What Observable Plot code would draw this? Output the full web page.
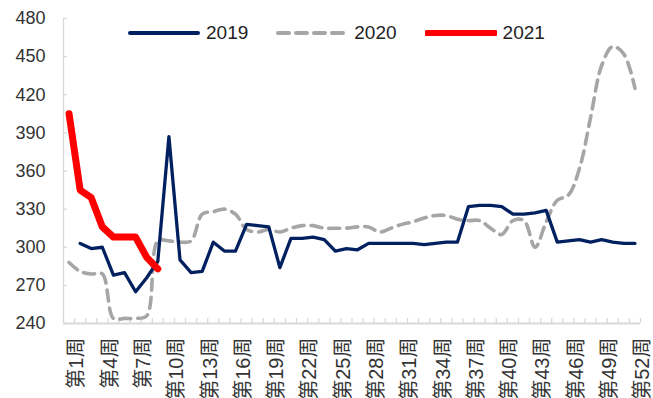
<!DOCTYPE html>
<html><head><meta charset="utf-8">
<script src="https://cdn.jsdelivr.net/npm/d3@7"></script>
<script src="https://cdn.jsdelivr.net/npm/@observablehq/plot@0.6"></script>
<style>
body{margin:0;background:#fff;}
#wrap{position:relative;width:653px;height:398px;overflow:hidden;font-family:"Liberation Sans","Noto Sans CJK SC",sans-serif;}
#legend{position:absolute;top:22px;left:128px;display:flex;align-items:center;font-size:19px;color:#222;}
#legend .item{display:flex;align-items:center;}
#legend .item span{margin-left:6px;margin-right:28px;}
</style></head><body><div id="wrap"><div id="legend"></div></div>
<script>
const weeks = d3.range(1, 53);
const tickWeeks = [1,4,7,10,13,16,19,22,25,28,31,34,37,40,43,46,49,52];
const yTicks = [240,270,300,330,360,390,420,450,480];
const seriesNames = ["2019","2020","2021"];
const seriesColors = ["#002060","#A6A6A6","#FF0000"];
const v2019 = [null,303,299,300,278,280,265,276,289,387,290,280,281,304,297,297,318,317,316,284,307,307,308,306,297,299,298,303,303,303,303,303,302,303,304,304,332,333,333,332,326,326,327,329,304,305,306,304,306,304,303,303];
const v2020 = [288,281,279,279,244,244,244,246,305,305,304,305,326,328,330,326,314,312,314,312,315,317,317,315,315,315,316,316,312,315,318,320,323,325,325,322,321,321,315,310,321,321,300,320,337,341,362,402,443,458,452,425];
const v2021 = [405,345,339,316,308,308,308,292,283];

const toRows = (vals) => vals.map((v, i) => ({week: weeks[i], value: v})).filter(d => d.value != null);
const d2019 = toRows(v2019), d2020 = toRows(v2020), d2021 = toRows(v2021);
const boundaries = d3.range(0, 53).map(i => i + 0.5);

const chart = Plot.plot({
  width: 653, height: 398,
  marginLeft: 63, marginRight: 13, marginTop: 18, marginBottom: 75,
  style: {fontFamily: '"Liberation Sans","Noto Sans CJK SC",sans-serif', fontSize: "18px", color: "#333", background: "#fff"},
  x: {type: "linear", domain: [0.5, 52.5]},
  y: {domain: [240, 480]},
  marks: [
    Plot.ruleX([0.5], {y1: 240, y2: 480, stroke: "#D9D9D9", strokeWidth: 1.3}),
    Plot.ruleY([240], {x1: 0.5, x2: 52.5, stroke: "#D9D9D9", strokeWidth: 2}),
    Plot.axisX({ticks: boundaries, tickSize: -5, tickFormat: () => "", stroke: "#D9D9D9", strokeWidth: 1.3, label: null}),
    Plot.axisY({ticks: yTicks, tickSize: -4, tickFormat: () => "", stroke: "#D9D9D9", strokeWidth: 1.3, label: null}),
    Plot.axisY({ticks: yTicks, tickSize: 0, tickPadding: 18, fontSize: 18, fill: "#333", label: null}),
    Plot.axisX({ticks: tickWeeks, tickSize: 0, tickPadding: 14, tickRotate: -90, tickFormat: d => `第${d}周`, fontSize: 20, fill: "#333", dx: 8, label: null}),
    Plot.line(d2020, {x: "week", y: "value", stroke: seriesColors[1], strokeWidth: 3.6, strokeDasharray: "11,7", curve: "catmull-rom"}),
    Plot.line(d2019, {x: "week", y: "value", stroke: seriesColors[0], strokeWidth: 3.3}),
    Plot.line(d2021, {x: "week", y: "value", stroke: seriesColors[2], strokeWidth: 7, strokeLinejoin: "round", strokeLinecap: "round"})
  ]
});
document.getElementById("wrap").appendChild(chart);

const legend = document.getElementById("legend");
const styles = [{w: 4, dash: null}, {w: 4, dash: "11,7"}, {w: 6, dash: null}];
seriesNames.forEach((name, i) => {
  const item = document.createElement("div");
  item.className = "item";
  item.innerHTML = `<svg width="72" height="10"><line x1="2" x2="70" y1="5" y2="5" stroke="${seriesColors[i]}" stroke-width="${styles[i].w}" stroke-linecap="round" ${styles[i].dash ? `stroke-dasharray="${styles[i].dash}"` : ""}/></svg><span>${name}</span>`;
  legend.appendChild(item);
});
</script>
</body></html>
